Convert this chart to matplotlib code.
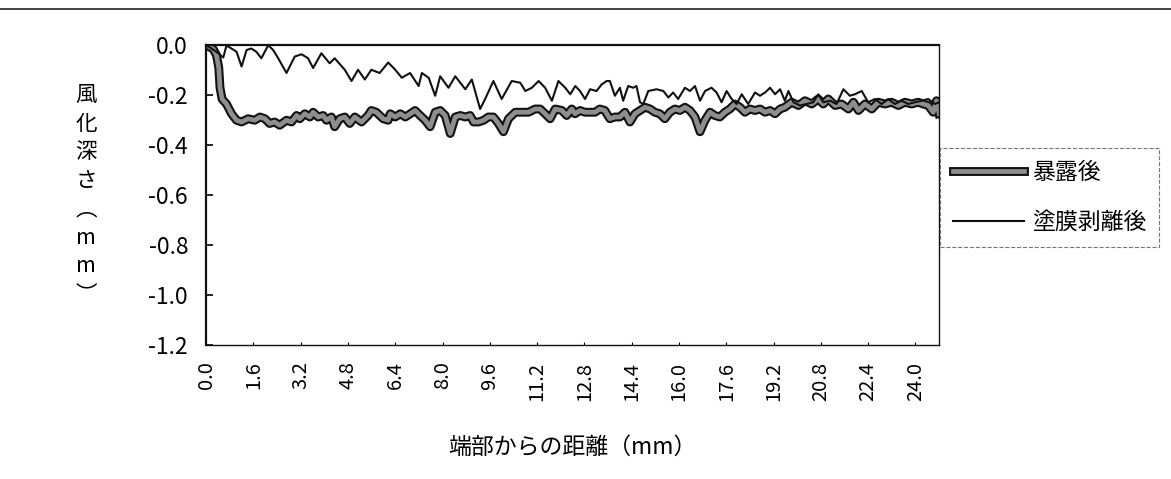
import numpy as np
import matplotlib
matplotlib.use('Agg')
import matplotlib.pyplot as plt
import matplotlib.patheffects as pe

plt.rcParams['font.family'] = ['Noto Sans CJK JP', 'DejaVu Sans']
plt.rcParams['axes.unicode_minus'] = False

# 暴露後 (太線) - 端部からの距離 mm / 風化深さ mm
bakuro_x = [0.0, 0.24, 0.35, 0.43, 0.47, 0.54, 0.69, 0.86, 1.03, 1.2, 1.42, 1.65, 1.82, 1.99,
            2.15, 2.32, 2.49, 2.72, 2.89, 3.06, 3.17, 3.34, 3.51, 3.62, 3.79, 3.96, 4.07, 4.24,
            4.35, 4.52, 4.69, 4.86, 5.03, 5.26, 5.48, 5.59, 5.76, 5.99, 6.16, 6.23, 6.4, 6.57,
            6.74, 6.91, 7.07, 7.24, 7.41, 7.58, 7.75, 7.92, 8.09, 8.26, 8.43, 8.6, 8.77, 8.93,
            9.05, 9.22, 9.39, 9.55, 9.72, 9.89, 10.06, 10.23, 10.46, 10.68, 10.91, 11.13, 11.3,
            11.47, 11.64, 11.81, 12.04, 12.2, 12.37, 12.48, 12.65, 12.82, 12.99, 13.16, 13.32,
            13.49, 13.66, 13.83, 14.0, 14.17, 14.34, 14.51, 14.68, 14.85, 15.02, 15.18, 15.35,
            15.52, 15.69, 15.86, 16.03, 16.2, 16.37, 16.54, 16.71, 16.88, 17.05, 17.21, 17.38,
            17.55, 17.72, 17.89, 18.06, 18.23, 18.4, 18.57, 18.74, 18.91, 19.08, 19.25, 19.42,
            19.58, 19.81, 20.04, 20.26, 20.49, 20.71, 20.88, 21.05, 21.28, 21.5, 21.73, 21.9,
            22.07, 22.29, 22.52, 22.74, 22.97, 23.19, 23.42, 23.64, 23.87, 24.09, 24.26, 24.43,
            24.6, 24.71, 24.8]
bakuro_y = [0.0, -0.016, -0.04, -0.092, -0.17, -0.216, -0.236, -0.275, -0.301, -0.308, -0.295,
            -0.301, -0.288, -0.295, -0.314, -0.308, -0.321, -0.301, -0.308, -0.282, -0.295,
            -0.275, -0.288, -0.269, -0.288, -0.282, -0.301, -0.288, -0.327, -0.295, -0.288,
            -0.314, -0.288, -0.308, -0.282, -0.262, -0.269, -0.295, -0.301, -0.275, -0.288,
            -0.275, -0.288, -0.275, -0.262, -0.282, -0.301, -0.327, -0.269, -0.262, -0.282,
            -0.354, -0.288, -0.282, -0.288, -0.282, -0.308, -0.308, -0.301, -0.288, -0.288,
            -0.314, -0.347, -0.295, -0.269, -0.269, -0.269, -0.256, -0.256, -0.275, -0.295,
            -0.256, -0.262, -0.282, -0.256, -0.275, -0.262, -0.269, -0.269, -0.269, -0.256,
            -0.262, -0.295, -0.288, -0.288, -0.269, -0.308, -0.275, -0.262, -0.249, -0.256,
            -0.269, -0.275, -0.295, -0.269, -0.256, -0.262, -0.249, -0.262, -0.288, -0.347,
            -0.301, -0.269, -0.282, -0.288, -0.269, -0.256, -0.236, -0.249, -0.269, -0.256,
            -0.262, -0.256, -0.269, -0.262, -0.275, -0.256, -0.249, -0.229, -0.242, -0.223,
            -0.236, -0.216, -0.236, -0.216, -0.242, -0.236, -0.256, -0.229, -0.262, -0.236,
            -0.256, -0.229, -0.236, -0.229, -0.242, -0.229, -0.236, -0.229, -0.236, -0.242,
            -0.269, -0.223, -0.275]

# 塗膜剥離後 (細線)
hakuri_x = [0.0, 0.35, 0.58, 0.69, 0.86, 1.03, 1.2, 1.37, 1.53, 1.7, 1.87, 2.1, 2.27, 2.44,
            2.72, 3.0, 3.23, 3.45, 3.62, 3.9, 4.18, 4.35, 4.69, 4.92, 5.14, 5.37, 5.59, 5.87,
            6.16, 6.4, 6.62, 6.9, 7.19, 7.3, 7.53, 7.75, 7.92, 8.2, 8.43, 8.77, 8.99, 9.27,
            9.44, 9.72, 10.0, 10.34, 10.63, 10.8, 11.02, 11.25, 11.47, 11.7, 11.92, 12.15,
            12.32, 12.49, 12.65, 12.82, 12.99, 13.21, 13.38, 13.55, 13.66, 13.83, 14.0, 14.11,
            14.28, 14.45, 14.56, 14.68, 14.79, 14.96, 15.24, 15.47, 15.64, 15.8, 15.97, 16.2,
            16.37, 16.54, 16.71, 16.88, 17.1, 17.27, 17.44, 17.61, 17.78, 17.95, 18.12, 18.34,
            18.57, 18.74, 18.91, 19.08, 19.25, 19.42, 19.58, 19.7, 19.87, 20.09, 20.32, 20.54,
            20.71, 20.88, 21.11, 21.33, 21.56, 21.78, 21.95, 22.18, 22.4, 22.63, 22.85, 23.08,
            23.3, 23.53, 23.76, 23.98, 24.21, 24.43, 24.66, 24.8]
hakuri_y = [0.0, -0.027, -0.05, -0.002, -0.014, -0.027, -0.086, -0.02, -0.014, -0.027, -0.053,
            -0.001, -0.02, -0.053, -0.112, -0.046, -0.037, -0.053, -0.092, -0.033, -0.073,
            -0.053, -0.099, -0.144, -0.099, -0.138, -0.099, -0.112, -0.07, -0.099, -0.131,
            -0.112, -0.164, -0.112, -0.131, -0.203, -0.125, -0.171, -0.125, -0.177, -0.138,
            -0.256, -0.216, -0.144, -0.216, -0.144, -0.151, -0.184, -0.171, -0.144, -0.171,
            -0.223, -0.144, -0.171, -0.197, -0.164, -0.184, -0.216, -0.177, -0.184, -0.158,
            -0.144, -0.144, -0.203, -0.171, -0.223, -0.164, -0.171, -0.164, -0.229, -0.236,
            -0.184, -0.177, -0.184, -0.21, -0.19, -0.216, -0.171, -0.184, -0.164, -0.223,
            -0.184, -0.171, -0.19, -0.229, -0.184, -0.216, -0.236, -0.197, -0.236, -0.19,
            -0.203, -0.19, -0.171, -0.197, -0.177, -0.223, -0.184, -0.229, -0.242, -0.236,
            -0.229, -0.197, -0.229, -0.223, -0.236, -0.177, -0.203, -0.197, -0.184, -0.229,
            -0.216, -0.236, -0.216, -0.236, -0.223, -0.236, -0.229, -0.223, -0.216, -0.236,
            -0.229]

xticks = np.round(np.arange(0, 24.01, 1.6), 1)
yticks = [0.0, -0.2, -0.4, -0.6, -0.8, -1.0, -1.2]

fig = plt.figure(figsize=(11.71, 4.79), dpi=100)
ax = fig.add_axes([0.176, 0.28, 0.626, 0.626])

# 太線は黒縁＋灰色の中身
ax.plot(bakuro_x, bakuro_y, color='#8e8e8e', lw=3.4, label='暴露後', solid_joinstyle='round',
        path_effects=[pe.Stroke(linewidth=6.4, foreground='#111111'), pe.Normal()])
ax.plot(hakuri_x, hakuri_y, color='#111111', lw=1.5, label='塗膜剥離後')

ax.set_xlim(0, 24.8)
ax.set_ylim(-1.2, 0.0)
ax.set_xticks(xticks)
ax.set_xticklabels(['%.1f' % v for v in xticks], rotation=90, fontsize=14.5)
ax.set_yticks(yticks)
ax.set_yticklabels(['%.1f' % v for v in yticks], fontsize=16.5)
ax.tick_params(axis='y', direction='in', length=5, width=1.2, pad=13)
ax.tick_params(axis='x', direction='in', length=2, width=0.8, pad=12)
for s in ax.spines.values():
    s.set_color('#111111')
    s.set_linewidth(1.0)
ax.spines['left'].set_linewidth(1.6)
ax.spines['top'].set_linewidth(1.6)

# 縦書きの軸ラベル
fig.text(86/1171, 1-195/479, '風\n化\n深\nさ\n︵\nm\nm\n︶', ha='center', va='center',
         fontsize=15.5, linespacing=1.38)
fig.text(572/1171, 1-447/479, '端部からの距離（mm）', ha='center', va='center', fontsize=16.5)

leg = fig.legend(loc='center left', bbox_to_anchor=(0.803, 0.588), fontsize=16.5,
                 handlelength=3.1, handletextpad=0.35, labelspacing=1.2, borderpad=0.55,
                 borderaxespad=0, fancybox=False, frameon=True)
leg.get_frame().set_edgecolor('#555555')
leg.get_frame().set_linewidth(0.8)
leg.get_frame().set_linestyle('--')

# スキャン画像の上端の線
fig.add_artist(plt.Line2D([0, 1], [1-9/479, 1-9/479], color='#222222', lw=1.2))

plt.savefig('out.png', dpi=100)
